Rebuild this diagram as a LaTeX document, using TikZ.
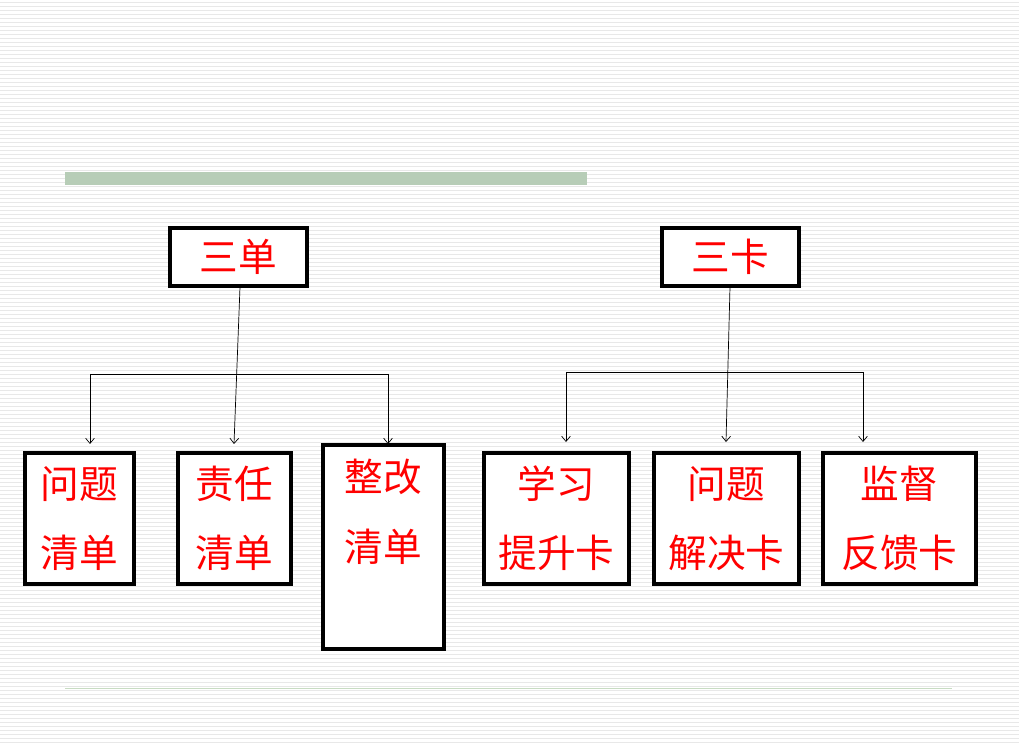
\documentclass[tikz,border=0pt]{standalone}
\usepackage{fontspec}
\newfontfamily\cjk{Noto Sans CJK SC}
\usetikzlibrary{arrows.meta}
\definecolor{barGreen}{RGB}{183,205,183}
\definecolor{lineGreen}{RGB}{200,220,195}
\definecolor{stripe}{RGB}{232,232,232}
\tikzset{
  box/.style={draw, line width=1.8pt},
  word/.style={text=red, font=\cjk\fontsize{22}{22}\selectfont, inner sep=0pt},
  link/.style={thin, -{Straight Barb[length=3pt,width=5pt]}}
}
\begin{document}
\begin{tikzpicture}[x=0.02cm,y=-0.02cm]
        \useasboundingbox (0,0) rectangle (1019,743);
        % Background stripes
        \foreach \y in {2,6,...,742}
          \draw[stripe, line width=0.4pt] (0,\y) -- (1019,\y);

        % Title bar and footer line
        \fill[barGreen] (65,172) rectangle (587,185);
        \draw[lineGreen] (65,688) -- (952,688);

        % Top boxes
        \draw[box, fill=white] (170,228) rectangle (307,286);
        \node[word] (dan) at (238.5,257) {三单};
        \draw[box, fill=white] (662,228) rectangle (799,286);
        \node[word] (ka) at (730.5,257) {三卡};

        % Lower boxes
        \draw[box, fill=white] (25,453) rectangle (134,584);
        \node[word] at (79.5,484) {问题};
        \node[word] at (79.5,553) {清单};

        \draw[box, fill=white] (178,453) rectangle (291,584);
        \node[word] at (234.5,484) {责任};
        \node[word] at (234.5,553) {清单};

        \draw[box, fill=white] (323,445) rectangle (444,649);
        \node[word] at (383.5,477) {整改};
        \node[word] at (383.5,547) {清单};

        \draw[box, fill=white] (484,453) rectangle (629,584);
        \node[word] at (556.5,484) {学习};
        \node[word] at (556.5,553) {提升卡};

        \draw[box, fill=white] (654,453) rectangle (799,584);
        \node[word] at (726.5,484) {问题};
        \node[word] at (726.5,553) {解决卡};

        \draw[box, fill=white] (823,453) rectangle (976,584);
        \node[word] at (899.5,484) {监督};
        \node[word] at (899.5,553) {反馈卡};

        % Connectors
        \coordinate (dtop) at (240,287);
        \coordinate (d1) at (90,444);
        \coordinate (d2) at (234,444);
        \coordinate (d3) at (388,444);
        \coordinate (ktop) at (730,287);
        \coordinate (k1) at (566,442);
        \coordinate (k2) at (726,442);
        \coordinate (k3) at (863,442);
        \draw[link] (dtop) -- (d2);
        \draw[link] (d1 |- 0,374) -- (d1);
        \draw[link] (d3 |- 0,374) -- (d3);
        \draw[thin] (d1 |- 0,374) -- (d3 |- 0,374);
        \draw[link] (ktop) -- (k2);
        \draw[link] (k1 |- 0,372) -- (k1);
        \draw[link] (k3 |- 0,372) -- (k3);
        \draw[thin] (k1 |- 0,372) -- (k3 |- 0,372);
\end{tikzpicture}
\end{document}
